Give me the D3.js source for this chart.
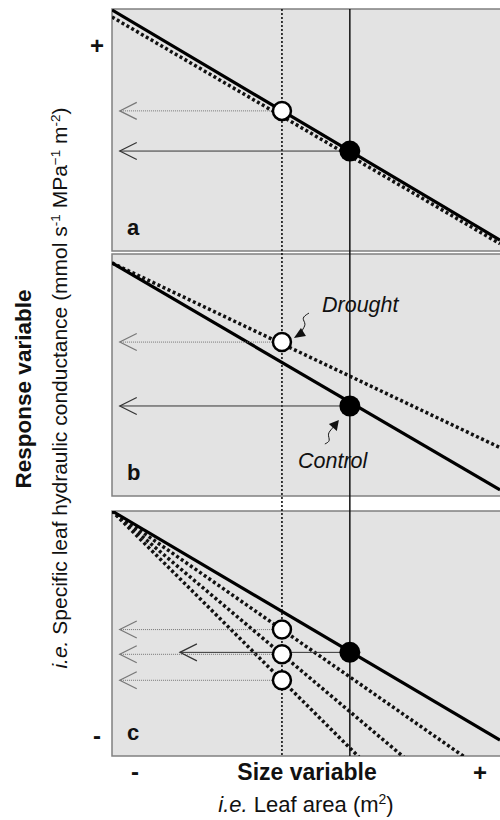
<!DOCTYPE html>
<html>
<head>
<meta charset="utf-8">
<script src="https://cdn.jsdelivr.net/npm/d3@7"></script>
<style>
  body { margin: 0; background: #fff; }
  text { font-family: "Liberation Sans", Arial, sans-serif; fill: #111; }
</style>
</head>
<body>
<script>
// values in unit space: x = size variable (0..1), y = response variable (0..1)
var panelNames = ["a", "b", "c"];
var controlX = 0.613;           // size of control leaves
var droughtX = 0.438;           // size of drought leaves
var solidLines = [[0.996, 0.045], [0.963, 0.025], [1.0, 0.065]];     // y at x=0 and x=1
var dottedLines = [[[0.967, 0.03]], [[0.963, 0.2]], [[1.0, -0.105], [1.0, -0.336], [1.0, -0.578]]];
var controlY = [0.413, 0.372, 0.423];
var droughtY = [[0.579], [0.636], [0.516, 0.415, 0.309]];
var arrowTipX = 0.02;
var controlArrowTipX = [0.02, 0.02, 0.175];
var xTickLabels = ["-", "+"];
var yTickLabels = ["+", "-"];

var width = 500, height = 820,
    left = 112, right = 500,
    panelTop = [9, 254, 511],
    panelH = [242, 242, 245];

var svg = d3.select("body").append("svg")
    .attr("width", width)
    .attr("height", height);

var x = d3.scaleLinear().domain([0, 1]).range([left, right]);

var defs = svg.append("defs");

panelNames.forEach(function(name, i) {
  defs.append("clipPath").attr("id", "clip" + i)
    .append("rect")
      .attr("x", left).attr("y", panelTop[i])
      .attr("width", 420).attr("height", panelH[i]);

  svg.append("rect")
      .attr("x", left).attr("y", panelTop[i])
      .attr("width", 420).attr("height", panelH[i])
      .attr("fill", "#e3e3e3")
      .attr("stroke", "#808080")
      .attr("stroke-width", 1.5);
});

// vertical reference lines through all panels
var yTop = panelTop[0], yBot = panelTop[2] + panelH[2];
svg.append("line")
    .attr("x1", x(droughtX)).attr("x2", x(droughtX))
    .attr("y1", yTop).attr("y2", yBot)
    .attr("stroke", "#111").attr("stroke-width", 1.6)
    .attr("stroke-dasharray", "2,2");
svg.append("line")
    .attr("x1", x(controlX)).attr("x2", x(controlX))
    .attr("y1", yTop).attr("y2", yBot)
    .attr("stroke", "#111").attr("stroke-width", 1.5);

function arrow(g, x0, x1, yy, color, dash) {
  g.append("line")
      .attr("x1", x0).attr("x2", x1).attr("y1", yy).attr("y2", yy)
      .attr("stroke", color).attr("stroke-width", 1)
      .attr("stroke-dasharray", dash);
  g.append("path")
      .attr("d", "M" + (x1 + 17) + "," + (yy - 8.5) + "L" + x1 + "," + yy + "L" + (x1 + 17) + "," + (yy + 8.5))
      .attr("fill", "none").attr("stroke", color).attr("stroke-width", 1.2);
}

panelNames.forEach(function(name, i) {
  var y = d3.scaleLinear().domain([0, 1]).range([panelTop[i] + panelH[i], panelTop[i]]);
  var g = svg.append("g");
  var clipped = g.append("g").attr("clip-path", "url(#clip" + i + ")");

  // arrows pointing to the response axis
  droughtY[i].forEach(function(v) {
    arrow(g, x(droughtX) - 8, x(arrowTipX), y(v), "#777", "1,1");
  });
  arrow(g, x(controlX) - 10, x(controlArrowTipX[i]), y(controlY[i]), "#333", null);

  // drought lines (dotted) then control line (solid)
  dottedLines[i].forEach(function(d) {
    clipped.append("line")
        .attr("x1", x(0)).attr("y1", y(d[0]))
        .attr("x2", x(1)).attr("y2", y(d[1]))
        .attr("stroke", "#111").attr("stroke-width", 3.5)
        .attr("stroke-dasharray", "3,2.6");
  });
  clipped.append("line")
      .attr("x1", x(0)).attr("y1", y(solidLines[i][0]))
      .attr("x2", x(1)).attr("y2", y(solidLines[i][1]))
      .attr("stroke", "#000").attr("stroke-width", 3.2);

  droughtY[i].forEach(function(v) {
    g.append("circle")
        .attr("cx", x(droughtX)).attr("cy", y(v)).attr("r", 9)
        .attr("fill", "#fff").attr("stroke", "#000").attr("stroke-width", 2.5);
  });
  g.append("circle")
      .attr("cx", x(controlX)).attr("cy", y(controlY[i])).attr("r", 10.5)
      .attr("fill", "#000");

  g.append("text")
      .attr("x", 127).attr("y", panelTop[i] + panelH[i] - 16)
      .style("font-size", "22px").style("font-weight", "bold")
      .text(name);

  if (name === "b") {
    var cx = x(droughtX), cy = y(droughtY[i][0]);
    var kx = x(controlX), ky = y(controlY[i]);
    g.append("text")
        .attr("x", 322).attr("y", 312)
        .style("font-size", "21.5px").style("font-style", "italic")
        .text("Drought");
    g.append("text")
        .attr("x", 298).attr("y", 468)
        .style("font-size", "21.5px").style("font-style", "italic")
        .text("Control");

    var squiggle = d3.line().curve(d3.curveBasis);
    g.append("path")
        .attr("d", squiggle([[cx + 27, cy - 29], [cx + 19, cy - 24], [cx + 25, cy - 18], [cx + 19, cy - 11], [cx + 21, cy - 8]]))
        .attr("fill", "none").attr("stroke", "#111").attr("stroke-width", 1);
    g.append("path")
        .attr("d", "M" + (cx + 12) + "," + (cy - 4) + "L" + (cx + 19) + "," + (cy - 14) + "L" + (cx + 24) + "," + (cy - 6) + "Z")
        .attr("fill", "#111");

    g.append("path")
        .attr("d", squiggle([[kx - 25, ky + 38], [kx - 19, ky + 35], [kx - 23, ky + 28], [kx - 17, ky + 22], [kx - 16, ky + 20]]))
        .attr("fill", "none").attr("stroke", "#111").attr("stroke-width", 1);
    g.append("path")
        .attr("d", "M" + (kx - 11) + "," + (ky + 14) + "L" + (kx - 21) + "," + (ky + 18) + "L" + (kx - 13) + "," + (ky + 25) + "Z")
        .attr("fill", "#111");
  }
});

// axis end labels
svg.append("text").attr("x", 97).attr("y", 54).attr("text-anchor", "middle")
    .style("font-size", "24px").style("font-weight", "bold").text(yTickLabels[0]);
svg.append("text").attr("x", 97).attr("y", 744).attr("text-anchor", "middle")
    .style("font-size", "24px").style("font-weight", "bold").text(yTickLabels[1]);
svg.append("text").attr("x", 135).attr("y", 780).attr("text-anchor", "middle")
    .style("font-size", "24px").style("font-weight", "bold").text(xTickLabels[0]);
svg.append("text").attr("x", 480).attr("y", 781).attr("text-anchor", "middle")
    .style("font-size", "24px").style("font-weight", "bold").text(xTickLabels[1]);

// x axis titles
svg.append("text").attr("x", 307).attr("y", 780).attr("text-anchor", "middle")
    .style("font-size", "23px").style("font-weight", "bold").text("Size variable");
var xt = svg.append("text").attr("x", 306).attr("y", 812).attr("text-anchor", "middle")
    .style("font-size", "22px");
xt.append("tspan").style("font-style", "italic").text("i.e.");
xt.append("tspan").text(" Leaf area (m");
xt.append("tspan").attr("dy", -8).style("font-size", "14px").text("2");
xt.append("tspan").attr("dy", 8).text(")");

// y axis titles
svg.append("text")
    .attr("transform", "translate(31,389) rotate(-90)")
    .attr("text-anchor", "middle")
    .style("font-size", "22.5px").style("font-weight", "bold")
    .text("Response variable");
var yt = svg.append("text")
    .attr("transform", "translate(67,388) rotate(-90)")
    .attr("text-anchor", "middle")
    .style("font-size", "21px");
yt.append("tspan").style("font-style", "italic").text("i.e.");
yt.append("tspan").text(" Specific leaf hydraulic conductance (mmol s");
yt.append("tspan").attr("dy", -7).style("font-size", "13.5px").text("-1");
yt.append("tspan").attr("dy", 7).text(" MPa");
yt.append("tspan").attr("dy", -7).style("font-size", "13.5px").text("\u22121");
yt.append("tspan").attr("dy", 7).text(" m");
yt.append("tspan").attr("dy", -7).style("font-size", "13.5px").text("-2");
yt.append("tspan").attr("dy", 7).text(")");
</script>
</body>
</html>
